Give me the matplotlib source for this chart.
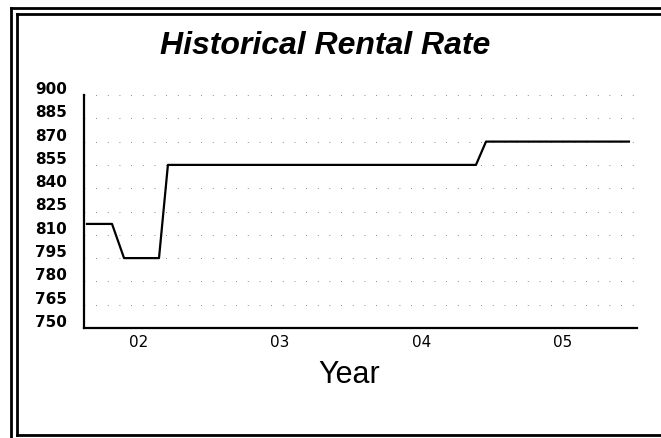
import matplotlib
matplotlib.use("Agg")
import matplotlib.pyplot as plt
from matplotlib.lines import Line2D
from matplotlib.transforms import ScaledTranslation

W, H = 661, 438

# rent history, x in decimal years
years = [2001.636, 2001.813, 2001.898, 2002.145, 2002.208, 2004.385, 2004.456, 2005.466]
rates = [817, 817, 795, 795, 855, 855, 870, 870]

yticks = [750, 765, 780, 795, 810, 825, 840, 855, 870, 885, 900]
xticks = [2002, 2003, 2004, 2005]
xlabels = ["02", "03", "04", "05"]


def fx(px):
    return px / W


def fy(py):
    return 1 - py / H


fig = plt.figure(figsize=(W / 100, H / 100), dpi=100)

# double frame round the chart
for x0, y0 in [(11, 8), (17, 14)]:
    fig.add_artist(Line2D([fx(x0), fx(x0)], [fy(y0), fy(438 if x0 == 11 else 435)],
                          color="black", lw=2.0))
    fig.add_artist(Line2D([fx(x0), 1.0], [fy(y0), fy(y0)], color="black", lw=2.0))
fig.add_artist(Line2D([fx(17), 1.0], [fy(435), fy(435)], color="black", lw=2.0))

ax = fig.add_axes([fx(84), fy(328), fx(637) - fx(84), fy(95) - fy(328)])
ax.plot(years, rates, color="black", lw=1.6)

ax.set_xlim(2001.615, 2005.523)
ax.set_ylim(750, 900)
ax.set_yticks(yticks)
ax.set_xticks(xticks)
ax.set_xticklabels(xlabels, fontsize=11, family="DejaVu Sans")
ax.set_yticklabels([str(v) for v in yticks], fontsize=11, family="DejaVu Sans",
                   fontweight="bold")
ax.tick_params(axis="both", length=0)
ax.tick_params(axis="y", pad=12)
ax.tick_params(axis="x", pad=5)

# labels on the y axis sit a little above their grid rows
up = ScaledTranslation(0, 7 / 100, fig.dpi_scale_trans)
for lab in ax.get_yticklabels():
    lab.set_transform(lab.get_transform() + up)

ax.yaxis.grid(True, linestyle=(0, (1, 13)), color="0.4", lw=0.6)
ax.set_axisbelow(True)

for side in ["top", "right"]:
    ax.spines[side].set_visible(False)
for side in ["left", "bottom"]:
    ax.spines[side].set_linewidth(1.6)
    ax.spines[side].set_color("black")

fig.text(fx(325), fy(46), "Historical Rental Rate", ha="center", va="center",
         fontsize=23, fontweight="bold", fontstyle="italic", family="Liberation Sans")
fig.text(fx(349), fy(375), "Year", ha="center", va="center",
         fontsize=22, family="Liberation Sans")

fig.savefig("out.png", dpi=100)
